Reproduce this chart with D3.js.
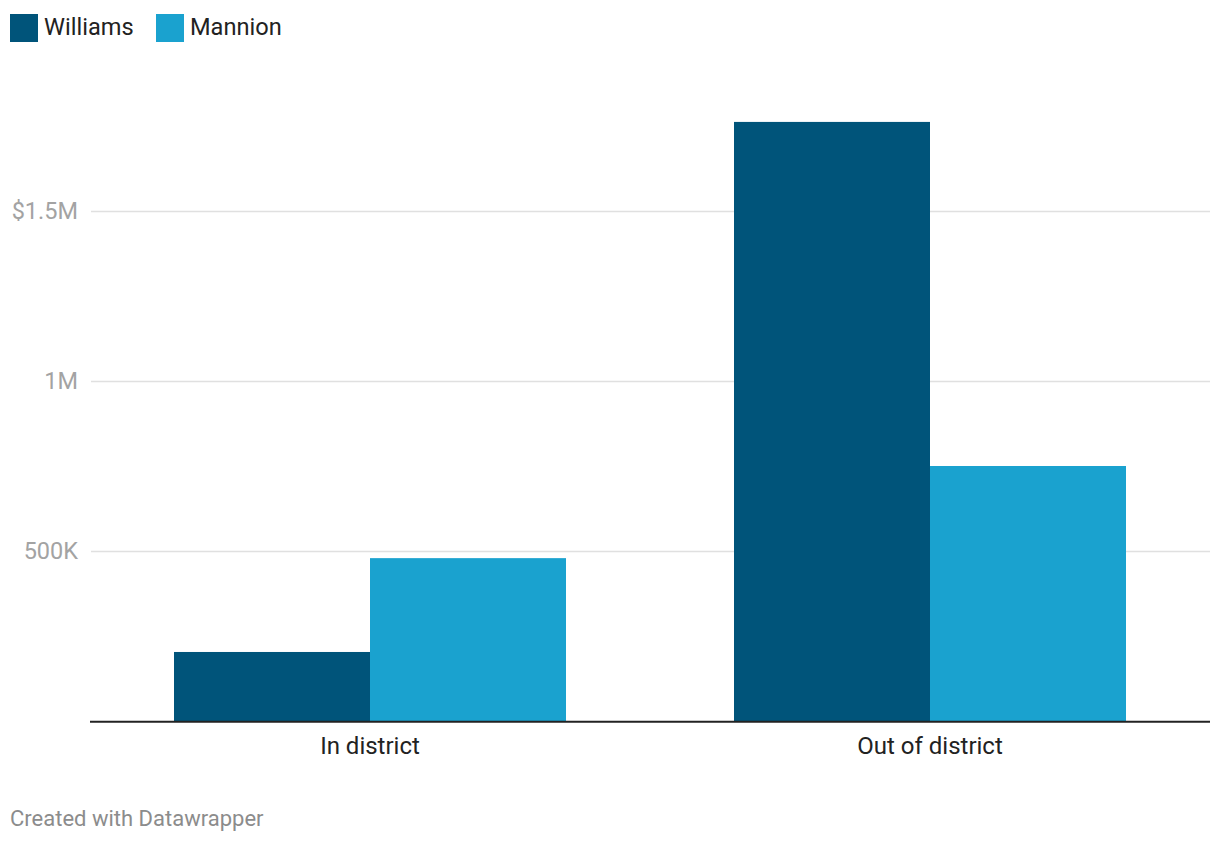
<!DOCTYPE html>
<html><head><meta charset="utf-8">
<script src="https://cdn.jsdelivr.net/npm/d3@7"></script>
<style>
body{margin:0;background:#fff;font-family:Roboto,"Noto Sans",sans-serif;}
</style></head>
<body><svg id="c" width="1220" height="844"></svg>
<script>
const categories = ["In district", "Out of district"];
const seriesNames = ["Williams", "Mannion"];
const williams = [203000, 1762000];
const mannion = [479000, 750000];
const tickValues = [500000, 1000000, 1500000];
const tickLabels = ["500K", "1M", "$1.5M"];
const colors = ["#00547a", "#1aa2cf"];

const svg = d3.select("#c");
const x = d3.scaleBand().domain(categories).range([90, 1210]).paddingInner(0.3).paddingOuter(0.15);
const xs = d3.scaleBand().domain(seriesNames).range([0, x.bandwidth()]);
const y = d3.scaleLinear().domain([0, 1500000]).range([721, 211]);
const color = d3.scaleOrdinal().domain(seriesNames).range(colors);

// gridlines
svg.append("g").selectAll("line").data(tickValues).join("line")
  .attr("x1", 91).attr("x2", 1210)
  .attr("y1", d => y(d) + 0.5).attr("y2", d => y(d) + 0.5)
  .attr("stroke", "#e0e0e0").attr("stroke-width", 1.5);

svg.append("g").selectAll("text").data(tickValues).join("text")
  .attr("x", 78).attr("y", d => y(d)).attr("dy", "0.35em")
  .attr("text-anchor", "end").attr("fill", "#a3a3a3")
  .style("font-size", "23.5px")
  .text((d, i) => tickLabels[i]);

// bars
const data = [];
categories.forEach((c, i) => {
  data.push({cat: c, s: "Williams", v: williams[i]});
  data.push({cat: c, s: "Mannion", v: mannion[i]});
});
svg.append("g").selectAll("rect").data(data).join("rect")
  .attr("x", d => x(d.cat) + xs(d.s))
  .attr("width", xs.bandwidth())
  .attr("y", d => y(d.v))
  .attr("height", d => y(0) - y(d.v))
  .attr("fill", d => color(d.s));

// baseline
svg.append("line").attr("x1", 90).attr("x2", 1210).attr("y1", y(0) + 0.7).attr("y2", y(0) + 0.7)
  .attr("stroke", "#222").attr("stroke-width", 2);

// x labels
svg.append("g").selectAll("text").data(categories).join("text")
  .attr("x", d => x(d) + x.bandwidth() / 2).attr("y", 746).attr("dy", "0.35em")
  .attr("text-anchor", "middle").attr("fill", "#222")
  .style("font-size", "24px").text(d => d);

// legend
const leg = svg.append("g");
const legX = [10, 156];
seriesNames.forEach((s, i) => {
  leg.append("rect").attr("x", legX[i]).attr("y", 14).attr("width", 28).attr("height", 28).attr("fill", color(s));
  leg.append("text").attr("x", legX[i] + 34).attr("y", 27).attr("dy", "0.35em")
    .attr("fill", "#222").style("font-size", "23.6px").text(s);
});

// footer
svg.append("text").attr("x", 10).attr("y", 818).attr("dy", "0.35em")
  .attr("fill", "#8c8c8c").style("font-size", "22px").text("Created with Datawrapper");
</script>
</body></html>
